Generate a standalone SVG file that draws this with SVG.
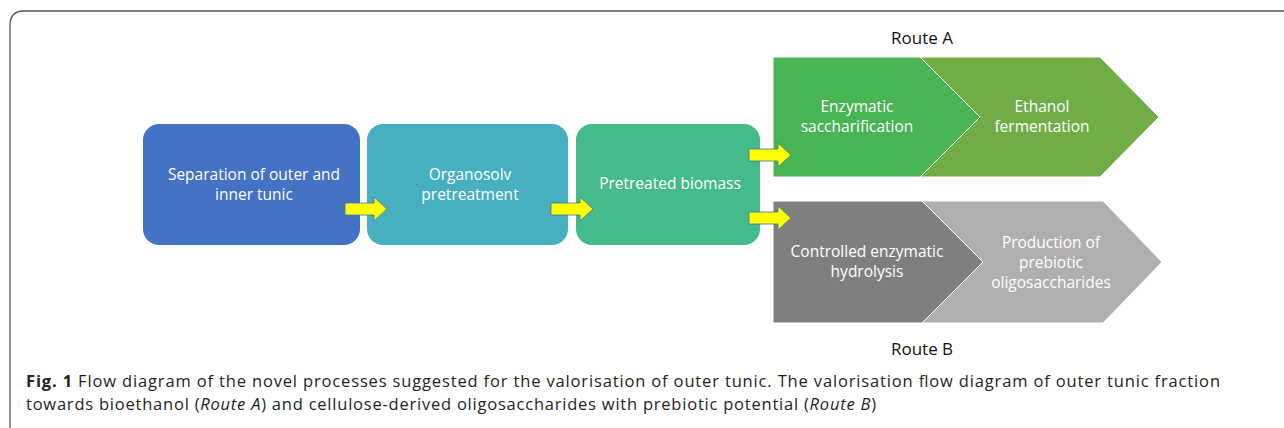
<svg xmlns="http://www.w3.org/2000/svg" xmlns:xlink="http://www.w3.org/1999/xlink" width="1284" height="428" viewBox="0 0 1284 428">
<style>
.lbl{font-family:"Open Sans","Liberation Sans",sans-serif;font-size:15.5px;fill:#ffffff;text-anchor:middle}
.route{font-family:"Open Sans","Liberation Sans",sans-serif;font-size:17px;fill:#111111;text-anchor:middle}
.cap{font-family:"Open Sans","Liberation Sans",sans-serif;font-size:16.5px;fill:#231f20}
.sep{stroke:#ffffff;stroke-width:1}
.arr{fill:#ffff00;stroke:#41719c;stroke-width:0.8;stroke-linejoin:miter}
</style>
<defs>
<path id="yarrow" d="M0,-6 H29 V-12 L42,0 L29,12 V6 H0 Z"/>
</defs>
<rect width="1284" height="428" fill="#ffffff"/>
<path d="M10,428 V25 Q10,11 24,11 H1284" fill="none" stroke="#555555" stroke-width="1.3"/>

<g id="node-separation">
<rect x="143" y="124" width="217" height="121" rx="16" fill="#4472c4"/>
<text class="lbl" x="254" y="180">Separation of outer and</text>
<text class="lbl" x="254" y="200">inner tunic</text>
</g>
<g id="node-organosolv">
<rect x="367" y="124" width="201" height="121" rx="16" fill="#46afc0"/>
<text class="lbl" x="470" y="180">Organosolv</text>
<text class="lbl" x="470" y="200">pretreatment</text>
</g>
<g id="node-pretreated">
<rect x="576" y="124" width="184" height="121" rx="16" fill="#45ba8b"/>
<text class="lbl" x="670" y="189">Pretreated biomass</text>
</g>
<g id="node-ethanol">
<polygon class="sep" points="920,57 1100,57 1159,117 1100,177 920,177 980,117" fill="#70ad47"/>
<text class="lbl" x="1042" y="112">Ethanol</text>
<text class="lbl" x="1042" y="132">fermentation</text>
</g>
<g id="node-saccharification">
<polygon class="sep" points="773,57 920,57 980,117 920,177 773,177" fill="#48b453"/>
<text class="lbl" x="857" y="112">Enzymatic</text>
<text class="lbl" x="857" y="132">saccharification</text>
</g>
<g id="node-prebiotic">
<polygon class="sep" points="922,201 1103,201 1162,262 1103,323 922,323 983,262" fill="#afafaf"/>
<text class="lbl" x="1051" y="248">Production of</text>
<text class="lbl" x="1051" y="268">prebiotic</text>
<text class="lbl" x="1051" y="288">oligosaccharides</text>
</g>
<g id="node-hydrolysis">
<polygon class="sep" points="773,201 922,201 983,262 922,323 773,323" fill="#7f7f7f"/>
<text class="lbl" x="867" y="257">Controlled enzymatic</text>
<text class="lbl" x="867" y="277">hydrolysis</text>
</g>

<g id="connectors">
<use xlink:href="#yarrow" href="#yarrow" class="arr" transform="translate(345,209)"/>
<use xlink:href="#yarrow" href="#yarrow" class="arr" transform="translate(551,209)"/>
<use xlink:href="#yarrow" href="#yarrow" class="arr" transform="translate(749,155)"/>
<use xlink:href="#yarrow" href="#yarrow" class="arr" transform="translate(749,218)"/>
</g>

<g id="route-labels">
<text class="route" x="922" y="44">Route A</text>
<text class="route" x="922" y="355">Route B</text>
</g>

<g id="caption">
<text class="cap" x="26" y="387" textLength="1194" lengthAdjust="spacing"><tspan font-weight="bold">Fig. 1</tspan>  Flow diagram of the novel processes suggested for the valorisation of outer tunic. The valorisation flow diagram of outer tunic fraction</text>
<text class="cap" x="26" y="410" textLength="850" lengthAdjust="spacing">towards bioethanol (<tspan font-style="italic">Route A</tspan>) and cellulose-derived oligosaccharides with prebiotic potential (<tspan font-style="italic">Route B</tspan>)</text>
</g>
</svg>
